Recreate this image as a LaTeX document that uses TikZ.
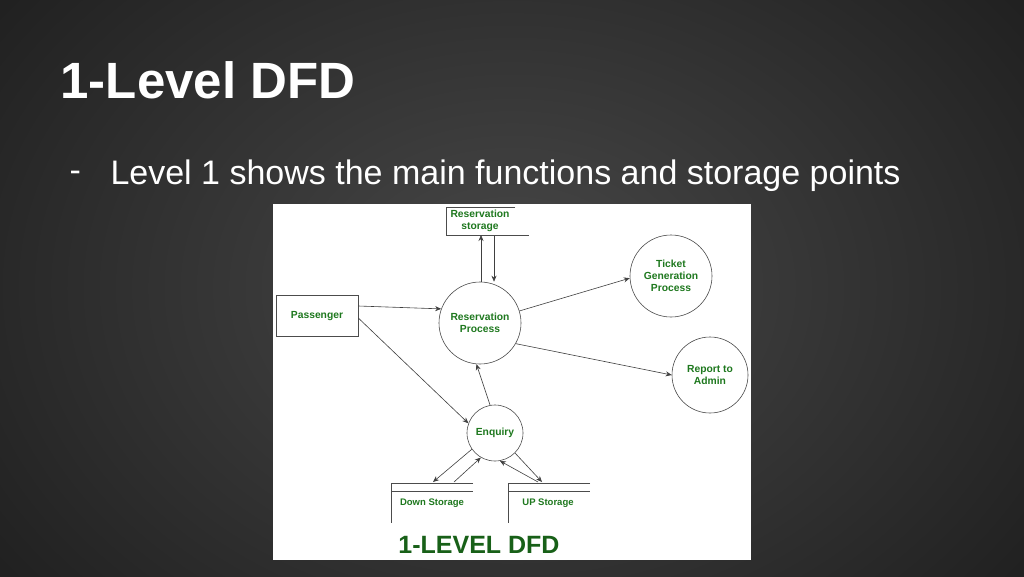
\documentclass[tikz,border=0pt]{standalone}
\usepackage{fontspec}
\setmainfont{Liberation Sans}
\usetikzlibrary{arrows.meta}
\definecolor{dg}{RGB}{30,120,30}
\definecolor{bgc}{RGB}{72,72,72}
\definecolor{bge}{RGB}{28,28,28}
\begin{document}
\begin{tikzpicture}[x=1pt,y=-1pt,
  lbl/.style={font=\fontsize{10.3}{12}\selectfont\bfseries, text=dg, align=center},
  proc/.style={circle, draw=black!70, line width=0.6pt, lbl, inner sep=0pt},
  flow/.style={draw=black!75, line width=0.6pt, -{Stealth[length=6pt,width=5pt]}},
  st/.style={draw=black!70, line width=0.6pt}]
\useasboundingbox (0,0) rectangle (1024,576);
\shade[inner color=bgc, outer color=bge] (-200,-250) rectangle (1224,826);
\node[anchor=west, text=white, font=\fontsize{51}{56}\selectfont\bfseries] (title) at (57,80) {1-Level DFD};
\node[anchor=west, text=white, font=\fontsize{34}{38}\selectfont] (dash) at (66,176) {-};
\node[anchor=west, text=white, font=\fontsize{34}{38}\selectfont] (sub) at (107,176) {Level 1 shows the main functions and storage points};
\fill[white] (273,204) rectangle (751,560);
% reservation storage
\draw[st] (515,207) -- (446,207) -- (446,235) -- (529,235);
\node[lbl] (rs) at (480,221) {Reservation\\storage};
\coordinate (rsb) at (481,235);
\coordinate (rsb2) at (494,236);
% passenger
\node[draw=black!70, line width=0.6pt, lbl, minimum width=82pt, minimum height=41pt] (pass) at (317,316) {Passenger};
\node[proc, minimum size=82pt] (rp) at (480,323) {Reservation\\Process};
\node[proc, minimum size=82pt] (tg) at (671,276) {Ticket\\Generation\\Process};
\node[proc, minimum size=76pt] (ra) at (710,375) {Report to\\Admin};
\node[proc, minimum size=56pt] (enq) at (495,433) {Enquiry};
% storages
\draw[st] (473,483) -- (391,483) -- (391,523);
\draw[st] (391,491) -- (473,491);
\node[lbl, font=\fontsize{9.5}{11}\selectfont\bfseries] (ds) at (432,503) {Down Storage};
\draw[st] (590,483) -- (508,483) -- (508,523);
\draw[st] (508,491) -- (590,491);
\node[lbl, font=\fontsize{9.5}{11}\selectfont\bfseries] (us) at (548,503) {UP Storage};
\coordinate (dsa) at (433,482);
\coordinate (dsb) at (454,482);
\coordinate (usa) at (542,482);
\coordinate (usb) at (538,482);
% flows
\draw[flow] (rp.north -| rsb) -- (rsb);
\draw[flow] (rsb2) -- (rp.north -| rsb2);
\draw[flow] (pass.east |- 0,306) -- (rp.160);
\draw[flow] (pass.east |- 0,318) -- (enq.160);
\draw[flow] (enq.100) -- (rp.265);
\draw[flow] (rp.17) -- (tg.183);
\draw[flow] (rp.330) -- (ra.180);
\draw[flow] (enq.215) -- (dsa);
\draw[flow] (dsb) -- (enq.240);
\draw[flow] (enq.315) -- (usa);
\draw[flow] (usb) -- (enq.280);
\node[font=\fontsize{25}{28}\selectfont\bfseries, text=dg!80!black] (cap) at (479,545) {1-LEVEL DFD};
\end{tikzpicture}
\end{document}
